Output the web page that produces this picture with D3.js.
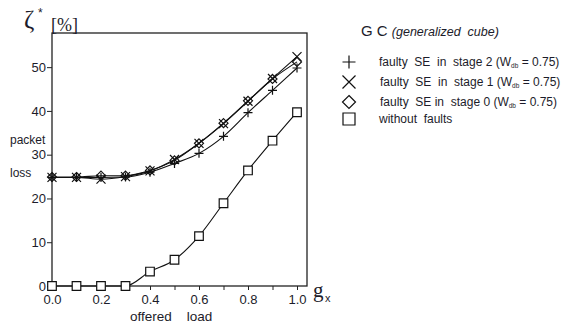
<!DOCTYPE html>
<html><head><meta charset="utf-8">
<script src="https://cdn.jsdelivr.net/npm/d3@7"></script>
<style>body{margin:0;background:#fff}svg{display:block}text{font-family:"Liberation Sans",Arial,sans-serif;fill:#1c1c2a}</style>
</head><body><svg id="c" width="566" height="329"></svg>
<script>
const loads = [0.0,0.1,0.2,0.3,0.4,0.5,0.6,0.7,0.8,0.9,1.0];
const stage2 = [24.8,24.8,24.8,24.9,26.0,28.0,30.3,34.2,39.6,44.7,49.8];
const stage1 = [24.8,24.8,24.4,25.0,26.3,28.9,32.6,37.1,42.2,47.4,52.4];
const stage0 = [24.9,24.9,25.2,25.2,26.4,28.7,32.6,37.2,42.3,47.3,51.2];
const noFault = [0,0,0,0,3.3,6.0,11.4,18.9,26.4,33.2,39.7];
const xTicks = [0.0,0.1,0.2,0.3,0.4,0.5,0.6,0.7,0.8,0.9,1.0];
const xLabels = [0.0,0.2,0.4,0.6,0.8,1.0];
const yTicks = [0,10,20,30,40,50];
const legendNames = ["faulty  SE  in  stage ","faulty  SE  in  stage ","faulty  SE in  stage ","without  faults"];
const legendStage = ["2","1","0",null];

const svg = d3.select("#c");
const L=52,T=33,R=307,B=286;
const x = d3.scaleLinear().domain([0,1.0408]).range([L,R]);
const y = d3.scaleLinear().domain([0,57.8]).range([B,T]);

svg.append("rect").attr("x",L).attr("y",T).attr("width",R-L).attr("height",B-T)
  .attr("fill","none").attr("stroke","#222").attr("stroke-width",1.3);

const xa = svg.append("g").attr("transform",`translate(0,${B})`)
  .call(d3.axisBottom(x).tickValues(xTicks).tickSize(4).tickFormat(d=>xLabels.some(v=>Math.abs(v-d)<1e-9)?d.toFixed(1):""));
xa.select(".domain").remove();
xa.selectAll("line").attr("stroke","#222");
xa.selectAll("text").attr("font-size",13).attr("dy","0.95em").attr("y",6);

const ya = svg.append("g").attr("transform",`translate(${L},0)`)
  .call(d3.axisLeft(y).tickValues(yTicks).tickSize(5).tickPadding(1).tickFormat(d3.format("d")));
ya.select(".domain").remove();
ya.selectAll("line").attr("stroke","#222");
ya.selectAll("text").attr("font-size",13);

const line = d3.line().x((d,i)=>x(loads[i])).y(d=>y(d)).curve(d3.curveMonotoneX);
const series = [
  {v:stage2, m:"plus"},
  {v:stage1, m:"cross"},
  {v:stage0, m:"diamond"},
  {v:noFault, m:"square"}
];
function marker(g, type, s){
  const p = g.append("path").attr("fill","none").attr("stroke","#111").attr("stroke-width",1.2);
  if(type==="plus") p.attr("d",`M${-s},0H${s}M0,${-s}V${s}`);
  if(type==="cross") p.attr("d",`M${-s},${-s}L${s},${s}M${-s},${s}L${s},${-s}`);
  if(type==="diamond") p.attr("d",`M0,${-s}L${s},0L0,${s}L${-s},0Z`);
  if(type==="square") p.attr("d",`M${-s},${-s}H${s}V${s}H${-s}Z`).attr("fill","#fff");
}
series.forEach(s=>{
  svg.append("path").attr("d",line(s.v)).attr("fill","none").attr("stroke","#111").attr("stroke-width",1.1);
});
series.forEach(s=>{
  s.v.forEach((d,i)=>{
    const g = svg.append("g").attr("transform",`translate(${x(loads[i])},${y(d)})`);
    marker(g, s.m, s.m==="square"?4.3:4.5);
  });
});

svg.append("text").attr("x",24).attr("y",28).style("font-family","'Liberation Serif',serif").attr("font-size",25).text("ζ");
svg.append("text").attr("x",38).attr("y",17).attr("font-size",12).text("*");
svg.append("text").attr("x",51).attr("y",31).style("font-family","'Liberation Serif',serif").attr("font-size",18).text("[%]");
svg.append("text").attr("x",10).attr("y",144).attr("font-size",12).text("packet");
svg.append("text").attr("x",10).attr("y",177).attr("font-size",12).text("loss");
svg.append("text").attr("x",130).attr("y",321).attr("font-size",13.5).attr("xml:space","preserve").text("offered    load");
svg.append("text").attr("x",313).attr("y",297).style("font-family","'Liberation Serif',serif").attr("font-size",21).text("g");
svg.append("text").attr("x",325).attr("y",302).attr("font-size",11).text("x");

const lt = svg.append("text").attr("x",361).attr("y",36).attr("font-size",15).attr("xml:space","preserve");
lt.append("tspan").text("G C ");
lt.append("tspan").attr("font-size",12.5).attr("font-style","italic").text("(generalized  cube)");
const rows = [62,82,102,119];
series.forEach((s,i)=>{
  const g = svg.append("g").attr("transform",`translate(349,${rows[i]})`);
  marker(g, s.m, s.m==="square"?6:6.5);
  const t = svg.append("text").attr("x",379+(i===1||i===2?1:0)).attr("y",rows[i]+4).attr("font-size",12).attr("xml:space","preserve");
  t.append("tspan").text(legendNames[i]);
  if(legendStage[i]!==null){
    t.append("tspan").text(legendStage[i]+" (W");
    t.append("tspan").attr("font-size",6.5).attr("dy",2).text("db");
    t.append("tspan").attr("dy",-2).text(" = 0.75)");
  }
});
</script></body></html>
